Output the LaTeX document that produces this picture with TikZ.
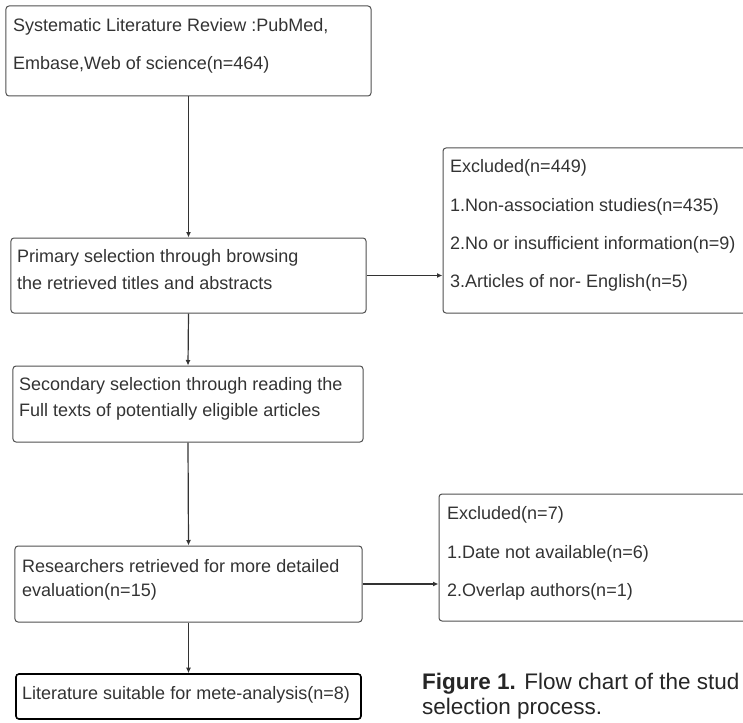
\documentclass[tikz,border=0pt]{standalone}
\usepackage{fontspec}
\setmainfont{Liberation Sans}
\usetikzlibrary{arrows.meta}
\definecolor{linegray}{HTML}{505050}
\definecolor{textgray}{HTML}{333333}
\begin{document}
\begin{tikzpicture}[x=1bp,y=-1bp,
  boxstyle/.style={draw=linegray, line width=1bp, rounded corners=3bp, inner sep=0pt},
  txt/.style={anchor=west, inner sep=0pt, text=textgray, font=\fontsize{18bp}{20bp}\selectfont},
  captxt/.style={anchor=west, inner sep=0pt, text=black!85, font=\fontsize{22.5bp}{24bp}\selectfont},
  arr/.style={draw=black!80, line width=1.2bp, -{Latex[length=5.5bp,width=5bp]}}]
\useasboundingbox (0,0) rectangle (743,723);
\clip (0,0) rectangle (743,723);
% boxes
\node[boxstyle, minimum width=365bp, minimum height=90bp] (b1) at (188.5,51) {};
\node[boxstyle, minimum width=355bp, minimum height=75bp] (b2) at (188.5,275.5) {};
\node[boxstyle, minimum width=350bp, minimum height=76bp] (b3) at (188,404) {};
\node[boxstyle, minimum width=347bp, minimum height=76bp] (b4) at (188.5,584) {};
\node[boxstyle, draw=black, line width=1.6bp, minimum width=345bp, minimum height=45bp] (b5) at (188.5,696.5) {};
\node[boxstyle, minimum width=330bp, minimum height=165bp] (e1) at (608,230.5) {};
\node[boxstyle, minimum width=330bp, minimum height=127bp] (e2) at (604,557.5) {};
% texts
\node[txt] (t1a) at (13,27) {Systematic Literature Review :PubMed,};
\node[txt] (t1b) at (13,65) {Embase,Web of science(n=464)};
\node[txt] (t2a) at (17,258) {Primary selection through browsing};
\node[txt] (t2b) at (17,283) {the retrieved titles and abstracts};
\node[txt] (t3a) at (19,386) {Secondary selection through reading the};
\node[txt] (t3b) at (19,412) {Full texts of potentially eligible articles};
\node[txt] (t4a) at (22,566) {Researchers retrieved for more detailed};
\node[txt] (t4b) at (22,592) {evaluation(n=15)};
\node[txt] (t5) at (22,695) {Literature suitable for mete-analysis(n=8)};
\node[txt] (te1a) at (450,168) {Excluded(n=449)};
\node[txt] (te1b) at (450,207) {1.Non-association studies(n=435)};
\node[txt] (te1c) at (450,245) {2.No or insufficient information(n=9)};
\node[txt] (te1d) at (450,283) {3.Articles of nor- English(n=5)};
\node[txt] (te2a) at (447,515) {Excluded(n=7)};
\node[txt] (te2b) at (447,554) {1.Date not available(n=6)};
\node[txt] (te2c) at (447,592) {2.Overlap authors(n=1)};
\node[captxt] (cap1) at (422,684) {\textbf{Figure 1.} Flow chart of the stud};
\node[captxt] (cap2) at (422,709) {selection process.};
% connectors
\draw[arr] (b1.south) -- (b2.north);
\draw[arr] (b2.south) -- (b3.north);
\draw[arr] (b3.south) -- (b4.north);
\draw[arr] (b4.south) -- (b5.north);
\draw[arr] (b2.east) -- (b2.east -| e1.west);
\draw[arr] (b4.east) -- (b4.east -| e2.west);
\end{tikzpicture}
\end{document}
